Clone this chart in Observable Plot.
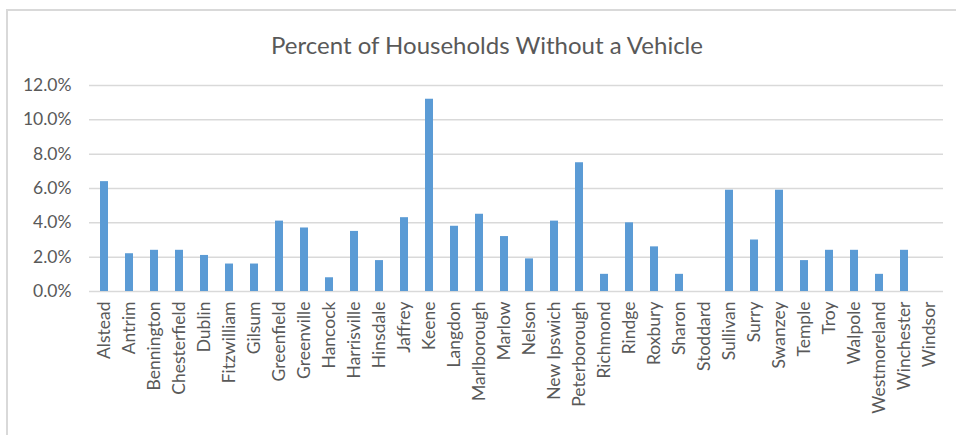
<!DOCTYPE html>
<html>
<head>
<meta charset="utf-8">
<script src="https://cdn.jsdelivr.net/npm/d3@7"></script>
<script src="https://cdn.jsdelivr.net/npm/@observablehq/plot@0.6"></script>
<style>
  html, body { margin: 0; padding: 0; background: #fff; }
  body { width: 956px; height: 435px; position: relative; overflow: hidden; font-family: Lato, "Open Sans", sans-serif; }
  #frame { position: absolute; left: 6px; top: 9px; width: 960px; height: 440px; border: 2px solid #d9d9d9; box-sizing: border-box; }
  #title { position: absolute; left: 18px; width: 938px; top: 29px; text-align: center; font-size: 24px; color: #595959; line-height: 32px; }
  #chart { position: absolute; left: 0; top: 0; }
</style>
</head>
<body>
<div id="frame"></div>
<div id="title">Percent of Households Without a Vehicle</div>
<div id="chart"></div>
<script>
// Towns of Cheshire County and the share of households with no vehicle (%)
const towns = [
  "Alstead", "Antrim", "Bennington", "Chesterfield", "Dublin", "Fitzwilliam",
  "Gilsum", "Greenfield", "Greenville", "Hancock", "Harrisville", "Hinsdale",
  "Jaffrey", "Keene", "Langdon", "Marlborough", "Marlow", "Nelson",
  "New Ipswich", "Peterborough", "Richmond", "Rindge", "Roxbury", "Sharon",
  "Stoddard", "Sullivan", "Surry", "Swanzey", "Temple", "Troy", "Walpole",
  "Westmoreland", "Winchester", "Windsor"
];
const pctNoVehicle = [
  6.4, 2.2, 2.4, 2.4, 2.1, 1.6,
  1.6, 4.1, 3.7, 0.8, 3.5, 1.8,
  4.3, 11.2, 3.8, 4.5, 3.2, 1.9,
  4.1, 7.5, 1.0, 4.0, 2.6, 1.0,
  0.0, 5.9, 3.0, 5.9, 1.8, 2.4, 2.4,
  1.0, 2.4, 0.0
];
const yTicks = [0, 2, 4, 6, 8, 10, 12];

const rows = towns.map((town, i) => ({town, pct: pctNoVehicle[i]}));

const chart = Plot.plot({
  width: 956,
  height: 435,
  marginLeft: 89,
  marginRight: 13,
  marginTop: 85,
  marginBottom: 144,
  style: {fontFamily: "Lato, 'Open Sans', sans-serif", fontSize: "17.5px", color: "#595959", background: "transparent"},
  x: {domain: towns, paddingInner: 0.68, paddingOuter: 0.34, label: null},
  y: {domain: [0, 12], label: null},
  marks: [
    Plot.gridY(yTicks, {stroke: "#d9d9d9", strokeOpacity: 1, strokeWidth: 1.5}),
    Plot.barY(rows, {x: "town", y: "pct", fill: "#5b9bd5"}),
    Plot.axisY(yTicks, {tickSize: 0, tickPadding: 18, tickFormat: d => d.toFixed(1) + "%", label: null}),
    Plot.axisX({tickSize: 0, tickPadding: 10, tickRotate: -90, label: null})
  ]
});
document.getElementById("chart").appendChild(chart);
</script>
</body>
</html>
